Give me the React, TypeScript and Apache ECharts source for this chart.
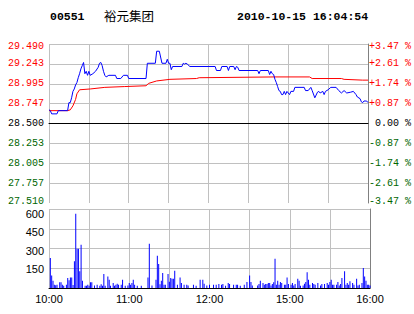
import React, { useEffect, useRef } from 'react';
import * as echarts from 'echarts';

const stockCode = '00551';
const stockName = '裕元集团';
const stampText = '2010-10-15 16:04:54';
const prevClose = 28.5;
const priceSpan = 0.99;
const priceStep = 0.2475;

const priceTickLabels = ['27.510', '27.757', '28.005', '28.253', '28.500', '28.747', '28.995', '29.243', '29.490'];
const pctTickLabels = ['-3.47 %', '-2.61 %', '-1.74 %', '-0.87 %', '\u00a00.00 %', '+0.87 %', '+1.74 %', '+2.61 %', '+3.47 %'];
const volTickMax = 640;
const timeTickMinutes = [0, 60, 120, 180, 240];
const timeTickLabels = ['10:00', '11:00', '12:00', '15:00', '16:00'];

// [minute from 10:00 (trading minutes), price]
const pricePoints: [number, number][] = [
  [0, 28.67], [1, 28.66], [2, 28.62], [6, 28.62], [7, 28.66], [14, 28.66], [15, 28.76], [16, 28.76],
  [17, 28.82], [18, 28.9], [19, 28.93], [20, 28.98], [21, 29.01], [22, 29.07], [23, 29.12], [24, 29.18],
  [25, 29.22], [26, 29.26], [27, 29.12], [28, 29.15], [29, 29.1], [30, 29.15], [31, 29.1], [33, 29.12],
  [35, 29.15], [37, 29.2], [38, 29.25], [39, 29.26], [40, 29.22], [41, 29.15], [42, 29.1], [43, 29.08],
  [45, 29.1], [50, 29.1], [51, 29.06], [54, 29.06], [56, 29.1], [59, 29.1], [60, 29.06], [73, 29.06],
  [74, 29.25], [80, 29.25], [81, 29.4], [83, 29.4], [85, 29.25], [88, 29.25], [89, 29.3], [90, 29.25],
  [91, 29.25], [92, 29.17], [93, 29.21], [100, 29.21], [101, 29.25], [102, 29.24], [103, 29.25], [104, 29.24],
  [106, 29.21], [125, 29.21], [126, 29.16], [129, 29.16], [130, 29.21], [134, 29.21], [135, 29.16], [136, 29.21],
  [139, 29.21], [140, 29.17], [141, 29.21], [142, 29.2], [143, 29.16], [157, 29.16], [158, 29.12], [159, 29.16],
  [165, 29.16], [166, 29.11], [167, 29.15], [168, 29.12], [169, 29.11], [170, 29.05], [171, 29.01], [172, 28.96],
  [173, 28.91], [174, 28.9], [175, 28.86], [176, 28.86], [177, 28.9], [178, 28.86], [179, 28.9], [181, 28.86],
  [182, 28.9], [184, 28.9], [185, 28.95], [192, 28.95], [193, 28.91], [195, 28.91], [197, 28.95], [198, 28.91],
  [200, 28.82], [202, 28.89], [203, 28.9], [204, 28.88], [206, 28.9], [207, 28.86], [208, 28.9], [210, 28.92],
  [212, 28.95], [216, 28.95], [218, 28.91], [220, 28.88], [222, 28.91], [224, 28.88], [227, 28.89], [229, 28.9],
  [231, 28.86], [232, 28.83], [234, 28.81], [235, 28.77], [236, 28.76], [237, 28.78], [239, 28.78], [240, 28.76],
];

const avgPoints: [number, number][] = [
  [0, 28.66], [14, 28.66], [16, 28.67], [18, 28.72], [20, 28.8], [21, 28.87], [23, 28.92], [31, 28.93],
  [42, 28.95], [57, 28.96], [73, 28.97], [75, 29.0], [81, 29.03], [91, 29.05], [111, 29.06], [113, 29.07],
  [170, 29.08], [196, 29.08], [198, 29.06], [220, 29.06], [222, 29.05], [236, 29.04], [240, 29.04],
];

const volumePoints: [number, number][] = [
  [1, 243], [2, 102], [3, 59], [4, 27], [5, 22], [6, 27], [8, 46], [9, 46], [10, 27], [11, 19], [13, 27],
  [14, 81], [15, 62], [16, 86], [17, 86], [18, 24], [19, 216], [20, 602], [21, 318], [22, 318], [23, 135],
  [24, 351], [25, 59], [27, 19], [28, 19], [29, 27], [30, 19], [31, 46], [32, 46], [34, 21], [36, 27],
  [38, 19], [39, 30], [40, 19], [41, 113], [42, 19], [44, 94], [45, 67], [46, 19], [48, 40], [49, 19],
  [50, 27], [51, 35], [52, 27], [54, 27], [55, 67], [57, 19], [59, 21], [60, 40], [61, 27], [62, 40],
  [63, 67], [64, 27], [66, 19], [69, 19], [74, 86], [75, 359], [77, 21], [80, 67], [81, 262], [82, 194],
  [83, 30], [84, 59], [85, 121], [86, 27], [87, 27], [89, 113], [90, 51], [91, 81], [92, 75], [93, 75],
  [94, 140], [96, 27], [98, 86], [99, 40], [101, 27], [103, 27], [104, 21], [108, 27], [110, 19], [113, 67],
  [115, 67], [116, 35], [118, 21], [120, 27], [123, 27], [125, 27], [127, 32], [129, 27], [130, 32], [132, 19],
  [134, 40], [135, 32], [138, 27], [140, 27], [141, 27], [143, 19], [146, 27], [148, 49], [150, 102], [151, 49],
  [152, 21], [156, 21], [157, 32], [158, 59], [160, 40], [161, 27], [162, 32], [163, 32], [164, 40], [165, 40],
  [166, 21], [167, 32], [168, 46], [169, 237], [170, 27], [171, 59], [172, 27], [173, 49], [174, 40], [176, 27],
  [177, 27], [178, 86], [179, 32], [181, 27], [182, 40], [183, 21], [184, 32], [186, 75], [187, 59], [188, 19],
  [190, 21], [191, 35], [192, 49], [193, 127], [194, 67], [195, 27], [197, 40], [198, 32], [199, 27], [201, 40],
  [203, 21], [204, 32], [206, 32], [208, 40], [209, 27], [210, 49], [211, 67], [212, 27], [213, 27], [215, 27],
  [216, 49], [217, 21], [218, 32], [219, 81], [221, 135], [222, 27], [223, 40], [224, 27], [225, 54], [227, 40],
  [228, 27], [230, 75], [231, 21], [232, 27], [234, 40], [235, 162], [236, 94], [237, 59], [238, 27], [239, 27],
  [240, 21],
];

const RED = '#ff0000';
const GREEN = '#006600';
const GRID_GRAY = '#c0c0c0';
const EDGE_GRAY = '#808080';
const MONO = '"Liberation Mono", "DejaVu Sans Mono", monospace';
const SANS = '"Liberation Sans", Arial, sans-serif';

const tickIndex = (v: any) => Math.round((Number(v) + priceSpan) / priceStep);
const tickColor = (v: any) => {
  const i = tickIndex(v);
  return i > 4 ? RED : i < 4 ? GREEN : '#000000';
};
const lastTick = priceTickLabels.length - 1;
const nudged = (labels: string[]) => (v: any) => {
  const i = tickIndex(v);
  const s = labels[i] ?? '';
  if (i === lastTick) return `{dn|${s}}`;
  if (i === 0) return `{up|${s}}`;
  return s;
};
const nudgeRich = {
  dn: { fontFamily: MONO, fontSize: 10, padding: [4, 0, 0, 0] },
  up: { fontFamily: MONO, fontSize: 10, padding: [0, 0, 4, 0] },
};

export default function App() {
  const ref = useRef<HTMLDivElement>(null);
  useEffect(() => {
    if (!ref.current) return;
    const chart = echarts.init(ref.current, null, { renderer: 'svg' });
    const timeFormatter = (v: any) => {
      const n = Number(v);
      const i = timeTickMinutes.findIndex((m) => Math.abs(m - n) < 0.01);
      return i >= 0 ? timeTickLabels[i] : '';
    };
    chart.setOption({
      animation: false,
      backgroundColor: '#ffffff',
      title: [
        { text: stockCode, left: 50, top: 10, padding: 0, textStyle: { fontFamily: MONO, fontWeight: 'bold', fontSize: 11.5, color: '#000' } },
        { text: stockName, left: 104, top: 9, padding: 0, textStyle: { fontFamily: '"Noto Sans CJK SC", sans-serif', fontWeight: 'normal', fontSize: 12.5, color: '#000' } },
        { text: stampText, left: 237, top: 10, padding: 0, textStyle: { fontFamily: MONO, fontWeight: 'bold', fontSize: 11.5, color: '#000' } },
      ],
      grid: [
        { left: 49, top: 44, width: 321, height: 159 },
        { left: 49, top: 209, width: 321, height: 79 },
      ],
      xAxis: [
        {
          gridIndex: 0, type: 'value', min: 0, max: 240, interval: 30,
          axisLine: { show: true, lineStyle: { color: '#000', width: 1 } },
          axisTick: { show: false }, axisLabel: { show: false },
          splitLine: { show: true, showMaxLine: false, lineStyle: { color: GRID_GRAY, width: 1 } },
        },
        {
          gridIndex: 1, type: 'value', min: 0, max: 240, interval: 30,
          axisLine: { show: true, lineStyle: { color: '#000', width: 1 } },
          axisTick: { show: false },
          axisLabel: { show: true, formatter: timeFormatter, fontFamily: SANS, fontSize: 11, color: '#000', margin: 5 },
          splitLine: { show: true, showMaxLine: false, lineStyle: { color: GRID_GRAY, width: 1 } },
        },
      ],
      yAxis: [
        {
          gridIndex: 0, type: 'value', min: -priceSpan, max: priceSpan, interval: priceStep,
          axisLine: { show: false }, axisTick: { show: false },
          axisLabel: {
            formatter: nudged(priceTickLabels), rich: nudgeRich,
            color: tickColor, fontFamily: MONO, fontSize: 10, margin: 5,
          },
          splitLine: { show: true, showMinLine: false, lineStyle: { color: GRID_GRAY, width: 1 } },
        },
        {
          gridIndex: 0, type: 'value', position: 'right', min: -priceSpan, max: priceSpan, interval: priceStep,
          axisLine: { show: true, lineStyle: { color: EDGE_GRAY, width: 1 } }, axisTick: { show: false },
          axisLabel: {
            formatter: nudged(pctTickLabels), rich: nudgeRich,
            color: tickColor, fontFamily: MONO, fontSize: 10, margin: 1, align: 'left',
          },
          splitLine: { show: false },
        },
        {
          gridIndex: 1, type: 'value', min: 0, max: volTickMax, interval: 150,
          axisLine: { show: false }, axisTick: { show: false },
          axisLabel: { showMinLabel: false, showMaxLabel: false, fontFamily: SANS, fontSize: 11, color: '#000', margin: 5 },
          splitLine: { show: false },
        },
        {
          gridIndex: 1, type: 'value', position: 'right', min: 0, max: 4, interval: 1,
          axisLine: { show: true, lineStyle: { color: EDGE_GRAY, width: 1 } }, axisTick: { show: false },
          axisLabel: { show: false },
          splitLine: { show: true, showMinLine: false, lineStyle: { color: GRID_GRAY, width: 1 } },
        },
      ],
      series: [
        {
          name: 'avg', type: 'line', xAxisIndex: 0, yAxisIndex: 0, showSymbol: false, symbol: 'none',
          lineStyle: { color: RED, width: 1 }, itemStyle: { color: RED }, z: 3,
          data: avgPoints.map(([m, p]) => [m, +(p - prevClose).toFixed(4)]),
        },
        {
          name: 'price', type: 'line', xAxisIndex: 0, yAxisIndex: 0, showSymbol: false, symbol: 'none',
          lineStyle: { color: '#0000ff', width: 1 }, itemStyle: { color: '#0000ff' }, z: 4,
          data: pricePoints.map(([m, p]) => [m, +(p - prevClose).toFixed(4)]),
          markLine: {
            silent: true, symbol: ['none', 'none'], label: { show: false },
            lineStyle: { color: '#000', type: 'solid', width: 1 },
            data: [{ yAxis: 0 }],
          },
        },
        {
          name: 'volume', type: 'bar', xAxisIndex: 1, yAxisIndex: 2, barWidth: 1,
          itemStyle: { color: '#0000ff' },
          data: volumePoints,
        },
      ],
    });
    return () => chart.dispose();
  }, []);
  return (
    <div
      ref={ref}
      style={{ position: 'fixed', left: 0, top: 0, width: 414, height: 314, background: '#fff' }}
    />
  );
}
